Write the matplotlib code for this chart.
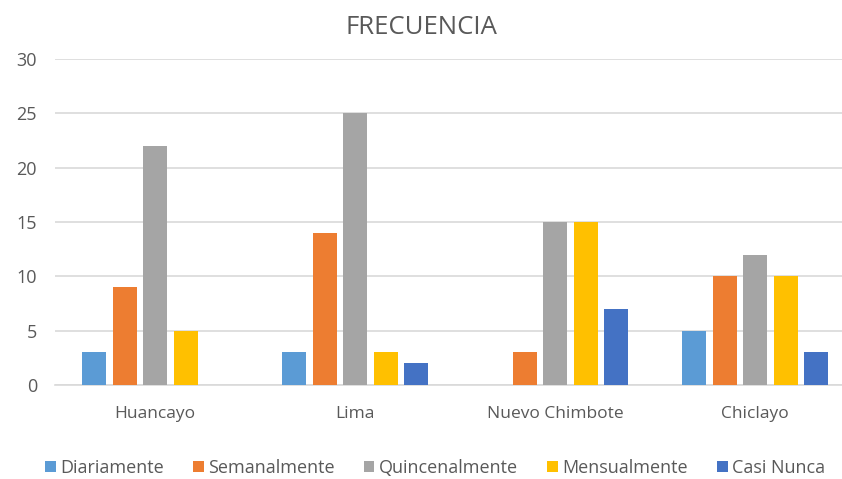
import matplotlib
matplotlib.use("Agg")
import matplotlib.pyplot as plt
import numpy as np

categories = ["Huancayo", "Lima", "Nuevo Chimbote", "Chiclayo"]
series_names = ["Diariamente", "Semanalmente", "Quincenalmente", "Mensualmente", "Casi Nunca"]
diariamente = [3, 3, 0, 5]
semanalmente = [9, 14, 3, 10]
quincenalmente = [22, 25, 15, 12]
mensualmente = [5, 3, 15, 10]
casi_nunca = [0, 2, 7, 3]
colors = ["#5B9BD5", "#ED7D31", "#A5A5A5", "#FFC000", "#4472C4"]
yticks = [0, 5, 10, 15, 20, 25, 30]

plt.rcParams['font.family'] = ['Open Sans', 'DejaVu Sans']

fig = plt.figure(figsize=(8.42, 4.79), dpi=100)
ax = fig.add_axes([55/842, 94/479, 800/842, 326/479])

series = [diariamente, semanalmente, quincenalmente, mensualmente, casi_nunca]
x = np.arange(len(categories))
step = 0.1525
width = 0.12
handles = []
for i, (vals, name, c) in enumerate(zip(series, series_names, colors)):
    h = ax.bar(x + (i - 2) * step, vals, width=width, color=c, label=name, zorder=3)
    handles.append(h)

ax.set_xlim(-0.5, 3.5)
ax.set_ylim(0, 30)
ax.set_yticks(yticks)
ax.set_xticks(x)
ax.set_xticklabels(categories)
ax.yaxis.grid(True, color="#D9D9D9", linewidth=1.2, zorder=0)
for s in ["top", "right", "left"]:
    ax.spines[s].set_visible(False)
ax.spines["bottom"].set_color("#D9D9D9")
ax.spines["bottom"].set_linewidth(1.2)
ax.tick_params(axis="y", length=0, pad=13, labelsize=13, labelcolor="#595959")
ax.tick_params(axis="x", length=0, pad=15, labelsize=12.5, labelcolor="#595959")

fig.text(0.5, 1 - 28/479, "FRECUENCIA", ha="center", va="center", fontsize=18.5, color="#595959")

fig.legend(handles=handles, labels=series_names, loc="center", bbox_to_anchor=(435/842, 1 - 468/479),
           ncol=5, frameon=False, fontsize=13, handlelength=0.6, handleheight=0.6,
           handletextpad=0.25, columnspacing=1.6, labelcolor="#595959")

fig.savefig("out.png", dpi=100)
